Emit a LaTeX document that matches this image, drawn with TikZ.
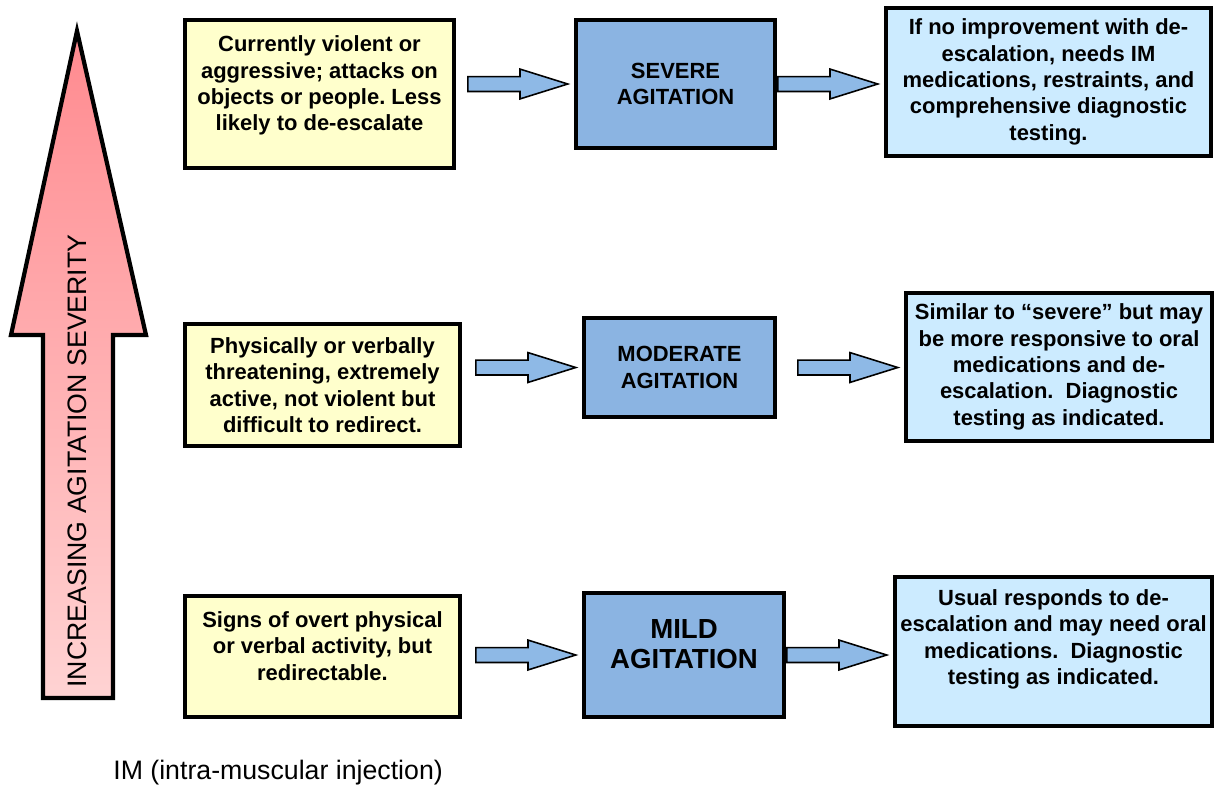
\documentclass[tikz,border=0pt]{standalone}
\usepackage{fontspec}
\setmainfont{Liberation Sans}
\usepackage{tikz}
\usetikzlibrary{calc, positioning}
\definecolor{signyellow}{HTML}{FFFFCC}
\definecolor{levelblue}{HTML}{8BB4E2}
\definecolor{careblue}{HTML}{CCEBFF}
\definecolor{arrowblue}{HTML}{8EB9E6}
\definecolor{severered}{HTML}{FF8A8F}
\definecolor{severepink}{HTML}{FFD3D3}
\newcommand{\boxfont}{\fontsize{12.5}{15}\selectfont\bfseries}
\frenchspacing

\begin{document}
\begin{tikzpicture}[x=0.02cm, y=-0.02cm,
    sign/.style={draw, line width=2.4pt, fill=signyellow, align=center, font=\boxfont, inner sep=2pt},
    level/.style={draw, line width=2.4pt, fill=levelblue, align=center, font=\boxfont, inner sep=2pt},
    care/.style={draw, line width=2.4pt, fill=careblue, align=center, font=\boxfont, inner sep=2pt},
    flow/.style={draw=black, line width=0.9pt, fill=arrowblue,
      to path={let \p1=(\tikztostart), \p2=(\tikztotarget) in
        ({\x2-60.4pt},{\y1+4.25pt}) -- ({\x2-30.7pt},{\y1+4.25pt}) -- ({\x2-30.7pt},{\y1+8.5pt})
        -- ({\x2-3.5pt},\y1) -- ({\x2-30.7pt},{\y1-8.5pt}) -- ({\x2-30.7pt},{\y1-4.25pt})
        -- ({\x2-60.4pt},{\y1-4.25pt}) -- cycle}}]
  \useasboundingbox (0,0) rectangle (1216,789);

  % severity arrow
  \draw[line width=2.4pt, top color=severered, bottom color=severepink]
    (77,31) -- (146,335) -- (113,335) -- (113,698) -- (43,698) -- (43,335) -- (11,335) -- cycle;
  \node[rotate=90, font=\fontsize{15.2}{18}\selectfont] (severity) at (77,461) {INCREASING AGITATION SEVERITY};

  % severe row
  \node[sign, minimum width=5.38cm, minimum height=2.96cm] (sevsign) at (319.5,94)
    {Currently violent or\\aggressive; attacks on\\objects or people. Less\\likely to de-escalate\\[-3pt]\mbox{}};
  \node[level, minimum width=3.98cm, minimum height=2.56cm] (sevlevel) at (675.5,84) {SEVERE\\AGITATION};
  \node[care, minimum width=6.5cm, minimum height=2.96cm] (sevcare) at (1048.5,82)
    {If no improvement with de-\\escalation, needs IM\\medications, restraints, and\\comprehensive diagnostic\\testing.};

  % moderate row
  \node[sign, minimum width=5.5cm, minimum height=2.44cm] (modsign) at (322.5,385)
    {Physically or verbally\\threatening, extremely\\active, not violent but\\difficult to redirect.};
  \node[level, minimum width=3.82cm, minimum height=1.98cm] (modlevel) at (679.5,367.5) {MODERATE\\AGITATION};
  \node[care, minimum width=6.12cm, minimum height=2.96cm] (modcare) at (1059,367)
    {Similar to ``severe'' but may\\be more responsive to oral\\medications and de-\\escalation.\ \ Diagnostic\\testing as indicated.};

  % mild row
  \node[sign, minimum width=5.5cm, minimum height=2.42cm] (mildsign) at (322.5,656.5)
    {Signs of overt physical\\or verbal activity, but\\redirectable.\\[-3pt]\mbox{}};
  \node[level, minimum width=4.0cm, minimum height=2.48cm, font=\fontsize{15.7}{17}\selectfont\bfseries] (mildlevel) at (684,655)
    {MILD\\AGITATION\\[-4.6pt]\mbox{}};
  \node[care, minimum width=6.34cm, minimum height=2.98cm] (mildcare) at (1053.5,651.5)
    {Usual responds to de-\\escalation and may need oral\\medications.\ \ Diagnostic\\testing as indicated.\\[1.4pt]\mbox{}};

  % block arrows
  \draw[flow] (sevsign.east |- sevlevel) to (sevlevel.west);
  \draw[flow] (sevlevel.east) to (sevcare.west |- sevlevel);
  \draw[flow] (modsign.east |- modlevel) to (modlevel.west);
  \draw[flow] (modlevel.east) to (modcare.west |- modlevel);
  \draw[flow] (mildsign.east |- mildlevel) to (mildlevel.west);
  \draw[flow] (mildlevel.east) to (mildcare.west |- mildlevel);

  \node[anchor=west, inner sep=0pt, font=\fontsize{15.2}{18}\selectfont] (imnote) at (113,773) {IM (intra-muscular injection)};
\end{tikzpicture}
\end{document}
